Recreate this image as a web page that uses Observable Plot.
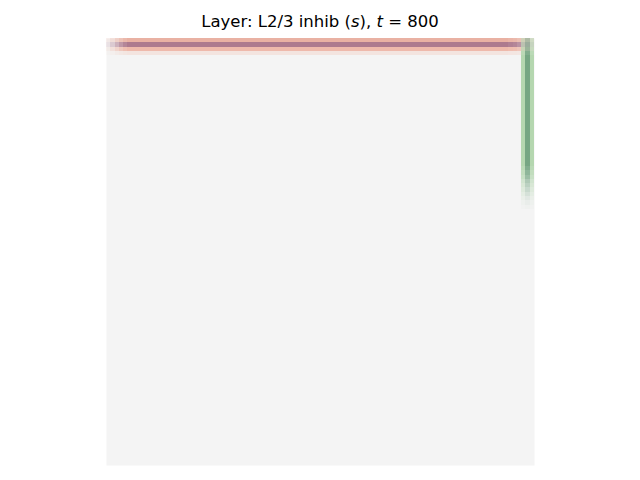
<!DOCTYPE html>
<html>
<head>
<meta charset="utf-8">
<script src="https://cdn.jsdelivr.net/npm/d3@7"></script>
<script src="https://cdn.jsdelivr.net/npm/@observablehq/plot@0.6"></script>
<style>
  body { margin: 0; background: #fff; width: 640px; height: 480px; overflow: hidden; font-family: "DejaVu Sans", sans-serif; }
  #title { position: relative; height: 38px; width: 640px; }
  #title span { position: absolute; left: 0; right: 0; top: 12px; text-align: center; font-size: 16.5px; color: #000; white-space: pre; }
  svg { display: block; }
</style>
</head>
<body>
<div id="title"><span>Layer: L2/3 inhib (<i>s</i>), <i>t</i> = 800</span></div>
<div id="chart"></div>
<script>
// Grid size (cells per side)
const gridSize = 100;
const background = "#f4f4f4";

// Top band: rows and their colours
const topRows = [0, 1, 2, 3];
const topRowColors = ["#e9b1a3", "#ad7a8e", "#eeb9ab", "#f3e4df"];
// Intensity of the top band for each column 0..99
const topColWeight = [
  0.15, 0.35, 0.55, 0.75, 0.9, 1, 1, 1, 1, 1,
  1, 1, 1, 1, 1, 1, 1, 1, 1, 1,
  1, 1, 1, 1, 1, 1, 1, 1, 1, 1,
  1, 1, 1, 1, 1, 1, 1, 1, 1, 1,
  1, 1, 1, 1, 1, 1, 1, 1, 1, 1,
  1, 1, 1, 1, 1, 1, 1, 1, 1, 1,
  1, 1, 1, 1, 1, 1, 1, 1, 1, 1,
  1, 1, 1, 1, 1, 1, 1, 1, 1, 1,
  1, 1, 1, 1, 1, 1, 1, 1, 1, 1,
  1, 1, 1, 1, 0.95, 0.9, 0.8, 0.65, 0.5, 0.3
];

// Right band: columns and their colours
const rightCols = [97, 98, 99];
const rightColColors = ["#b5d7b0", "#76a683", "#b5d7b0"];
// Intensity of the right band for rows 0..39
const rightRowWeight = [
  0.55, 0.6, 0.7, 0.9, 1, 1, 1, 1, 1, 1,
  1, 1, 1, 1, 1, 1, 1, 1, 1, 1,
  1, 1, 1, 1, 1, 1, 1, 1, 1, 1,
  0.9, 0.8, 0.7, 0.55, 0.45, 0.35, 0.25, 0.15, 0.08, 0.04
];

const topMarks = topRows.map((r, i) =>
  Plot.rect(topColWeight.map((w, c) => ({c, r, w})), {
    x1: "c", x2: d => d.c + 1, y1: "r", y2: d => d.r + 1,
    fill: topRowColors[i], fillOpacity: "w", shapeRendering: "crispEdges"
  })
);
const rightMarks = rightCols.map((c, i) =>
  Plot.rect(rightRowWeight.map((w, r) => ({c, r, w})), {
    x1: "c", x2: d => d.c + 1, y1: "r", y2: d => d.r + 1,
    fill: rightColColors[i], fillOpacity: "w", shapeRendering: "crispEdges"
  })
);

const chart = Plot.plot({
  width: 640,
  height: 442,
  marginLeft: 106,
  marginRight: 106,
  marginTop: 0,
  marginBottom: 15,
  x: {domain: [0, gridSize], axis: null},
  y: {domain: [gridSize, 0], axis: null},
  opacity: {type: "identity"},
  marks: [
    Plot.frame({fill: background, stroke: null}),
    ...topMarks,
    ...rightMarks
  ]
});
document.getElementById("chart").appendChild(chart);
</script>
</body>
</html>
